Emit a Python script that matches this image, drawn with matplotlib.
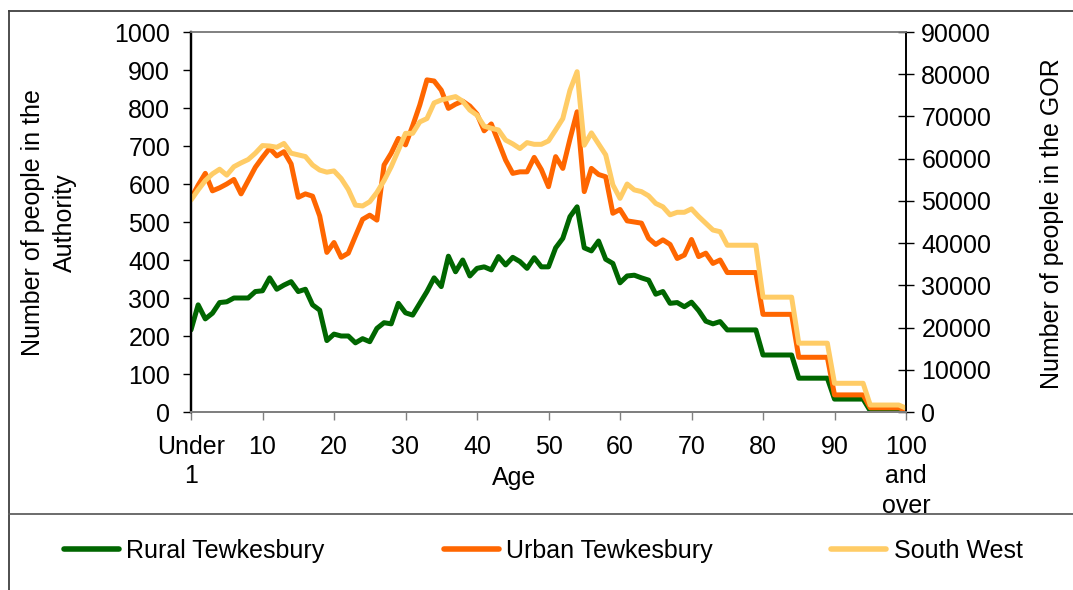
import matplotlib
matplotlib.use("Agg")
import matplotlib.pyplot as plt
from matplotlib.lines import Line2D

plt.rcParams['font.family'] = ['Liberation Sans', 'DejaVu Sans']

ages = list(range(0, 101))
tick_positions = [0, 10, 20, 30, 40, 50, 60, 70, 80, 90, 100]
tick_labels = ["Under\n1", "10", "20", "30", "40", "50", "60", "70", "80", "90", "100\nand\nover"]

rural = [216, 282, 245, 260, 288, 290, 300, 300, 300, 317,
         319, 353, 323, 334, 343, 317, 323, 282, 268, 188,
         205, 200, 200, 182, 193, 185, 220, 235, 232, 286,
         261, 255, 286, 317, 353, 330, 410, 369, 400, 358,
         378, 382, 374, 409, 387, 407, 396, 378, 406, 382,
         382, 432, 457, 514, 540, 432, 424, 450, 402, 391,
         340, 358, 360, 353, 347, 310, 317, 286, 288, 277,
         289, 267, 239, 232, 238, 216, 216, 216, 216, 216,
         150, 150, 150, 150, 150, 89, 89, 89, 89, 89,
         34, 34, 34, 34, 34, 3, 3, 3, 3, 3,
         2]

urban = [562, 597, 628, 582, 590, 600, 612, 574, 609, 644,
         670, 694, 674, 685, 653, 565, 574, 568, 516, 420,
         446, 407, 418, 463, 507, 518, 505, 650, 681, 720,
         703, 753, 808, 874, 871, 847, 799, 810, 818, 805,
         784, 740, 758, 711, 663, 628, 632, 632, 670, 638,
         593, 672, 641, 718, 790, 580, 641, 625, 619, 523,
         533, 503, 500, 497, 457, 441, 453, 441, 404, 413,
         454, 409, 418, 391, 400, 367, 367, 367, 367, 367,
         257, 257, 257, 257, 257, 144, 144, 144, 144, 144,
         45, 45, 45, 45, 45, 11, 11, 11, 11, 11,
         5]

south_west = [50200, 52600, 54800, 56400, 57500, 56100, 58100, 59000, 59800, 61300,
              63100, 63000, 62700, 63600, 61300, 60900, 60500, 58500, 57300, 56800,
              57100, 55300, 52700, 49000, 48800, 49800, 52000, 54800, 58100, 62000,
              66000, 66000, 68700, 69500, 73200, 73900, 74300, 74700, 73600, 71500,
              70300, 67700, 67200, 66800, 64400, 63500, 62400, 63800, 63400, 63400,
              64200, 66800, 69500, 76200, 80600, 63200, 66100, 63500, 60900, 53800,
              50600, 54000, 52600, 52200, 51200, 49400, 48600, 46700, 47300, 47300,
              48100, 46300, 44700, 43100, 42700, 39500, 39500, 39500, 39500, 39500,
              27200, 27200, 27200, 27200, 27200, 16300, 16300, 16300, 16300, 16300,
              6800, 6800, 6800, 6800, 6800, 1650, 1650, 1650, 1650, 1650,
              900]

series_names = ["Rural Tewkesbury", "Urban Tewkesbury", "South West"]
colors = ["#006600", "#FF6600", "#FFCC66"]

W, H = 1073, 590
fig = plt.figure(figsize=(W / 100, H / 100), dpi=100)
ax = fig.add_axes([191 / W, 1 - 412 / H, (906 - 191) / W, (412 - 32) / H])
ax2 = ax.twinx()

FS = 18
lw = 3.6
l1, = ax.plot(ages, rural, color=colors[0], lw=lw, solid_joinstyle='round', solid_capstyle='round')
l2, = ax.plot(ages, urban, color=colors[1], lw=lw, solid_joinstyle='round', solid_capstyle='round')
l3, = ax2.plot(ages, south_west, color=colors[2], lw=lw, solid_joinstyle='round', solid_capstyle='round')

ax.set_xlim(0, 100)
ax.set_ylim(0, 1000)
ax2.set_ylim(0, 90000)
ax.set_yticks(range(0, 1001, 100))
ax2.set_yticks(range(0, 90001, 10000))
ax.set_xticks(tick_positions)
ax.set_xticklabels(tick_labels, linespacing=1.29)

ax.tick_params(axis='y', direction='out', length=6, width=1, labelsize=FS, pad=9, color='black')
ax.tick_params(axis='x', direction='out', length=6, width=1, labelsize=FS, pad=10.5, color='#808080')
ax2.tick_params(axis='y', direction='inout', length=12, width=1, labelsize=FS, pad=5, color='black')

for a in (ax, ax2):
    a.spines['top'].set_color('#808080')
    a.spines['bottom'].set_color('#808080')
    a.spines['left'].set_color('black')
    a.spines['right'].set_color('black')
    a.spines['left'].set_linewidth(1.6)
    a.spines['right'].set_linewidth(1.2)
    a.spines['top'].set_linewidth(1.2)
    a.spines['bottom'].set_linewidth(1.4)

fig.text(49 / W, 1 - 223 / H, "Number of people in the\nAuthority", rotation=90,
         ha='center', va='center', multialignment='center', fontsize=FS, linespacing=1.45)
fig.text(1052 / W, 1 - 224 / H, "Number of people in the GOR", rotation=90,
         ha='center', va='center', fontsize=FS)
fig.text(514 / W, 1 - 478 / H, "Age", ha='center', va='center', fontsize=FS)

frame_color = '#404040'
fig.add_artist(Line2D([9 / W, 9 / W], [0, 1 - 11 / H], transform=fig.transFigure, color=frame_color, lw=1.3))
fig.add_artist(Line2D([9 / W, 1], [1 - 11 / H, 1 - 11 / H], transform=fig.transFigure, color=frame_color, lw=1.3))
fig.add_artist(Line2D([9 / W, 1], [1 - 514 / H, 1 - 514 / H], transform=fig.transFigure, color='#606060', lw=1.3))

leg = fig.legend([l1, l2, l3], series_names, loc='center left',
                 bbox_to_anchor=(64 / W, 1 - 551 / H), ncol=3, frameon=False,
                 fontsize=FS, handlelength=2.2, handletextpad=0.3, columnspacing=4.75,
                 borderpad=0, borderaxespad=0)
for h in leg.get_lines():
    h.set_linewidth(4)

fig.savefig("out.png", dpi=100)
